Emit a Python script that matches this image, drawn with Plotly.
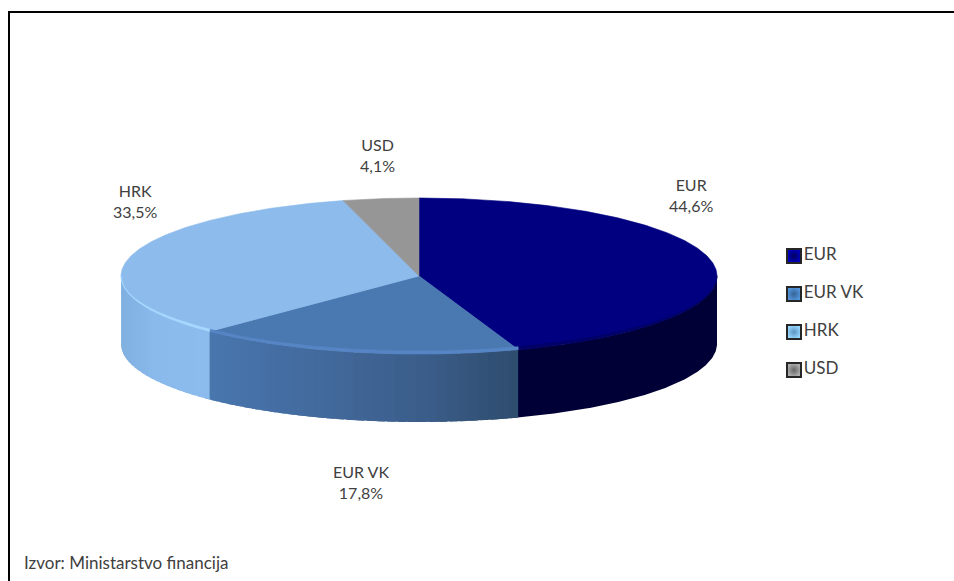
import math
import plotly.graph_objects as go

# Data
categories = ["EUR", "EUR VK", "HRK", "USD"]
shares = [44.6, 17.8, 33.5, 4.1]
source_text = "Izvor: Ministarstvo financija"

# Styles
top_colors = ["#000080", "#4a78b0", "#8cbbec", "#969696"]
label_positions = [(691, 195), (361, 482), (135, 201), (377, 155)]
legend_y = [256, 294, 332, 370]
swatch_center = ["#0000c0", "#5496de", "#98d8ff", "#b0b0b0"]
swatch_edge = ["#00005c", "#356394", "#5c94c0", "#666666"]
TEXT = "#404040"
FONT = "Lato"

# Pie geometry (drawing area in page pixels)
CX, CY, RX, RY, DEPTH = 419, 276, 298, 78, 68


def rim(theta, ry=RY, dy=0):
    """Point on the ellipse, theta in degrees clockwise from 12 o'clock."""
    t = math.radians(theta)
    return CX + RX * math.sin(t), CY + dy - ry * math.cos(t)


def arc(a, b, ry=RY, dy=0, step=1.0):
    n = max(2, int(abs(b - a) / step) + 1)
    return [rim(a + (b - a) * i / (n - 1), ry, dy) for i in range(n)]


def mix(stops, x):
    for (x0, c0), (x1, c1) in zip(stops, stops[1:]):
        if x <= x1:
            f = max(0, (x - x0) / (x1 - x0))
            rgb = [int(c0[i:i + 2], 16) * (1 - f) + int(c1[i:i + 2], 16) * f for i in (1, 3, 5)]
            return "rgb(%d,%d,%d)" % tuple(round(v) for v in rgb)
    return stops[-1][1]


def poly(pts, color, name, width=0.6):
    return go.Scatter(
        x=[p[0] for p in pts] + [pts[0][0]],
        y=[p[1] for p in pts] + [pts[0][1]],
        mode="lines", fill="toself", fillcolor=color,
        line=dict(color=color, width=width),
        hoverinfo="skip" if name is None else "text",
        text=name, showlegend=False,
    )


# Slice boundaries from the shares
bounds = [0.0]
for s in shares:
    bounds.append(bounds[-1] + s * 3.6)

side_stops = {
    0: [(518, "#000036"), (717, "#000036")],
    1: [(209, "#4876ae"), (330, "#42699b"), (430, "#3a5c88"), (518, "#2e4c6e")],
    2: [(121, "#80b0e0"), (155, "#8abaec"), (209, "#8cbcee")],
}

fig = go.Figure()

# Front wall, drawn as narrow overlapping strips to carry the gradient
# Strips run from right to left in the picture; each one reaches under the next.
for i in (0, 1, 2):
    a0 = max(bounds[i], 90.0)
    b0 = min(bounds[i + 1], 270.0)
    nstrips = 1 if i == 0 else max(3, int((b0 - a0) / 2.0))
    for k in range(nstrips):
        a = a0 + (b0 - a0) * k / nstrips
        b = a0 + (b0 - a0) * (k + 1) / nstrips
        end = min(b + 1.5, 270.0)
        top = arc(a, end, step=0.5)
        bottom = arc(end, a, dy=DEPTH, step=0.5)
        xm = rim((a + b) / 2)[0]
        fig.add_trace(poly(top + bottom, mix(side_stops[i], xm), None, width=0))

# Top surface
for i, cat in enumerate(categories):
    pts = [(CX, CY)] + arc(bounds[i], bounds[i + 1], step=0.5)
    fig.add_trace(poly(pts, top_colors[i], f"{cat}: {shares[i]}%"))

# Bevel along the front rim of the top surface
bevels = {0: ("#000068", 3.0), 1: ("#5585c4", 3.0), 2: ("#a6d8ff", 3.5)}
for i, (color, w) in bevels.items():
    a0 = max(bounds[i], 90.0)
    b0 = min(bounds[i + 1], 270.0)
    outer = arc(a0, b0, step=0.5)
    inner = arc(b0, a0, ry=RY - w, step=0.5)
    fig.add_trace(poly(outer + inner, color, None))

# Legend entries
for i, cat in enumerate(categories):
    fig.add_trace(go.Scatter(
        x=[794], y=[legend_y[i]], mode="markers+text", text=[cat],
        textposition="middle right",
        textfont=dict(family=FONT, size=17, color=TEXT),
        marker=dict(symbol="square", size=14, color=swatch_center[i],
                    gradient=dict(type="radial", color=swatch_edge[i]),
                    line=dict(color="#262626", width=2)),
        hoverinfo="skip", showlegend=False,
    ))

# Data labels
annotations = []
for i, cat in enumerate(categories):
    lx, ly = label_positions[i]
    annotations.append(dict(
        x=lx, y=ly, xref="x", yref="y", showarrow=False,
        text=f"{cat}<br>{shares[i]:.1f}%".replace(".", ","),
        font=dict(family=FONT, size=16, color=TEXT), align="center",
    ))
annotations.append(dict(
    x=22, y=562, xref="x", yref="y", xanchor="left", showarrow=False,
    text=source_text, font=dict(family=FONT, size=17, color=TEXT),
))

fig.update_layout(
    width=954, height=581, margin=dict(l=0, r=0, t=0, b=0),
    paper_bgcolor="white", plot_bgcolor="white", showlegend=False,
    xaxis=dict(range=[0, 954], visible=False, fixedrange=True),
    yaxis=dict(range=[581, 0], visible=False, fixedrange=True),
    annotations=annotations,
    shapes=[
        dict(type="line", xref="x", yref="y", x0=8, x1=954, y0=12, y1=12,
             line=dict(color="#000000", width=2)),
        dict(type="line", xref="x", yref="y", x0=9, x1=9, y0=11, y1=581,
             line=dict(color="#000000", width=2)),
    ],
)

fig.write_html(
    "out.html",
    config=dict(displayModeBar=False),
    post_script="document.body.style.margin='0';document.body.style.overflow='hidden';",
)
